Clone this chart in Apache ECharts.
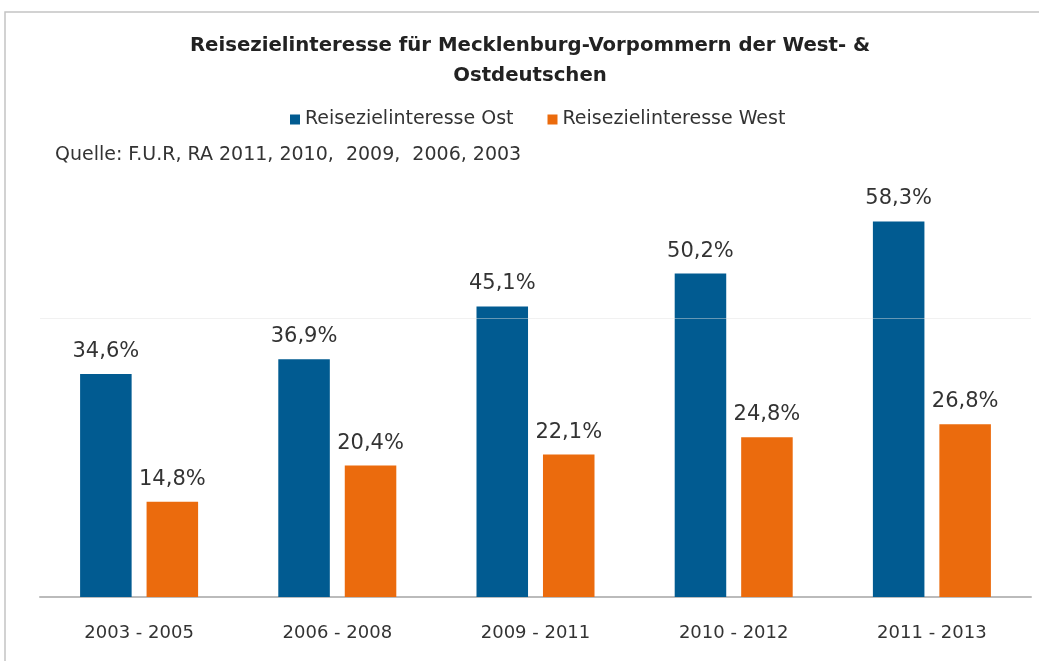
<!DOCTYPE html>
<html><head><meta charset="utf-8">
<script src="https://cdn.jsdelivr.net/npm/echarts@6/dist/echarts.min.js"></script>
<style>html,body{margin:0;padding:0;background:#fff}#c{width:1039px;height:661px}</style>
</head><body><div id="c"></div>
<script>
const categories = ['2003 - 2005','2006 - 2008','2009 - 2011','2010 - 2012','2011 - 2013'];
const ostValues = [34.6, 36.9, 45.1, 50.2, 58.3];
const westValues = [14.8, 20.4, 22.1, 24.8, 26.8];
const seriesNames = ['Reisezielinteresse Ost','Reisezielinteresse West'];
const faintGridValues = [43.3];
const titleText = 'Reisezielinteresse für Mecklenburg-Vorpommern der West- &\nOstdeutschen';
const sourceText = 'Quelle: F.U.R, RA 2011, 2010,  2009,  2006, 2003';

const FONT = "'DejaVu Sans',sans-serif";
const chart = echarts.init(document.getElementById('c'));
const fmt = p => p.value.toFixed(1).replace('.', ',') + '%';
chart.setOption({
  animation: false,
  backgroundColor: '#fff',
  legend: {
    data: seriesNames, top: 105, left: 285, itemWidth: 10, itemHeight: 10, itemGap: 34,
    icon: 'rect',
    textStyle: {fontFamily: FONT, fontSize: 19, color: '#333'}
  },
  graphic: [
    {type: 'rect', shape: {x: 5, y: 12, width: 1040, height: 660}, style: {fill: 'none', stroke: '#c4c4c4', lineWidth: 1.5}, silent: true},
    {type: 'text', x: 530, y: 31, style: {text: titleText, textAlign: 'center', fontFamily: FONT, fontSize: 19.7, fontWeight: 'bold', fill: '#222', lineHeight: 30}},
    {type: 'text', left: 55, top: 146, style: {text: sourceText, fontFamily: FONT, fontSize: 19, fill: '#333'}}
  ],
  grid: {left: 40, right: 8, top: 146, bottom: 64},
  xAxis: {
    type: 'category', data: categories,
    axisLine: {lineStyle: {color: '#bbb', width: 2}},
    axisTick: {show: false},
    axisLabel: {fontFamily: FONT, fontSize: 18, color: '#333', margin: 27}
  },
  yAxis: {type: 'value', min: 0, max: 70, show: false, splitLine: {show: false}},
  series: [
    {
      name: seriesNames[0], type: 'bar', data: ostValues, barWidth: '26%', barGap: '29%',
      itemStyle: {color: '#015B91'},
      label: {show: true, position: 'top', distance: 12, formatter: fmt, fontFamily: FONT, fontSize: 21, color: '#333'},
      markLine: {
        silent: true, symbol: 'none', label: {show: false},
        lineStyle: {color: 'rgba(225,225,225,0.45)', width: 1, type: 'solid'},
        data: faintGridValues.map(v => ({yAxis: v}))
      },
      z: 2
    },
    {
      name: seriesNames[1], type: 'bar', data: westValues, barWidth: '26%',
      itemStyle: {color: '#EB6B0D'},
      label: {show: true, position: 'top', distance: 12, formatter: fmt, fontFamily: FONT, fontSize: 21, color: '#333'},
      z: 2
    }
  ]
});
</script></body></html>
